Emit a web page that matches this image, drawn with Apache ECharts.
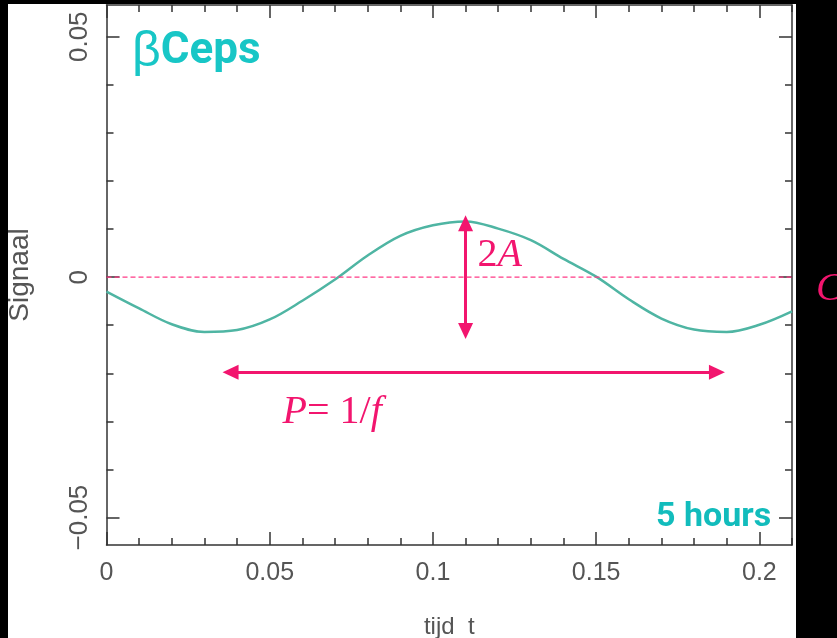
<!DOCTYPE html>
<html>
<head>
<meta charset="utf-8">
<script src="https://cdn.jsdelivr.net/npm/echarts@6/dist/echarts.min.js"></script>
<style>
  html, body { margin: 0; padding: 0; background: #000; }
  #chart { width: 837px; height: 638px; }
</style>
</head>
<body>
<div id="chart"></div>
<script>
// Signal of a beta Cephei pulsator over roughly five hours of time
const tijd = [0, 0.01, 0.02, 0.03, 0.04, 0.05, 0.06, 0.07, 0.08, 0.09, 0.10,
              0.11, 0.12, 0.13, 0.14, 0.15, 0.16, 0.17, 0.18, 0.19, 0.20, 0.21];
const signaal = [-0.0030, -0.0065, -0.0098, -0.0114, -0.0110, -0.0088, -0.0049,
                 -0.0005, 0.0045, 0.0086, 0.0108, 0.0116, 0.0101, 0.0077, 0.0038,
                 0.0001, -0.0046, -0.0086, -0.0109, -0.0114, -0.0099, -0.0071];

// Axis ticks
const xMajorTicks = [0, 0.05, 0.1, 0.15, 0.2];
const xMinorTicks = [0.01, 0.02, 0.03, 0.04, 0.06, 0.07, 0.08, 0.09, 0.11, 0.12,
                     0.13, 0.14, 0.16, 0.17, 0.18, 0.19, 0.21];
const yMajorTicks = [-0.05, 0.05];
const yZeroTick = [0];
const yMinorTicks = [-0.04, -0.03, -0.02, -0.01, 0.01, 0.02, 0.03, 0.04];

// Annotations: mean level C, amplitude arrow (2A) and period arrow (P = 1/f)
const meanLevel = [0];
const amplitude = [0.0112];
const amplitudeAt = [0.11];
const periodArrow = [0.038, 0.187];
const periodArrowAt = [-0.0198];

const xRange = [0, 0.21];
const yRange = [-0.0557, 0.0566];

const PINK = '#f2156e';
const AXIS = '#333333';
const LABEL = '#555555';

const chart = echarts.init(document.getElementById('chart'));

function axisBase(extra) {
  return Object.assign({
    type: 'value',
    splitLine: { show: false },
    axisLine: { show: false, onZero: false },
    axisLabel: { show: false }
  }, extra);
}

function majorTick(values) {
  return { show: true, inside: true, length: 13, customValues: values,
           lineStyle: { color: AXIS, width: 1.5 } };
}
function minorTick(values) {
  return { show: true, inside: true, length: 7, customValues: values,
           lineStyle: { color: AXIS, width: 1.5 } };
}
const frameLine = { show: true, onZero: false, lineStyle: { color: AXIS, width: 1.5 } };
const panel = {
  type: 'rect', z: -100, silent: true,
  shape: { x: 8, y: 4, width: 788, height: 640 },
  style: { fill: '#ffffff' }
};

const option = {
  backgroundColor: '#000000',
  animation: false,
  graphic: [panel],
  title: [{
    text: '{b|β}{c|Ceps}',
    left: 127, top: 22,
    textStyle: {
      rich: {
        b: { fontFamily: 'Liberation Sans', fontWeight: 'normal', fontSize: 50, color: '#18c6c6' },
        c: { fontFamily: 'Roboto', fontWeight: 'bold', fontSize: 44, color: '#18c6c6' }
      }
    }
  }, {
    text: '5 hours',
    left: 651, top: 495,
    textStyle: {
      fontFamily: 'Roboto', fontWeight: 'bold', fontSize: 34, color: '#12bcbc',
      textShadowColor: '#1a1a1a', textShadowOffsetX: 2, textShadowOffsetY: 2, textShadowBlur: 0
    }
  }],
  grid: { left: 106.5, right: 45, top: 5, bottom: 93, containLabel: false, outerBoundsMode: 'none' },
  xAxis: [
    axisBase({
      position: 'bottom', min: xRange[0], max: xRange[1],
      axisLine: frameLine,
      axisTick: majorTick(xMajorTicks),
      axisLabel: { show: true, customValues: xMajorTicks, margin: 16, fontSize: 25,
                   fontFamily: 'Liberation Sans', color: LABEL },
      name: 'tijd  t', nameLocation: 'middle', nameGap: 70,
      nameTextStyle: { fontSize: 24, fontFamily: 'Liberation Sans', color: LABEL }
    }),
    axisBase({ position: 'bottom', min: xRange[0], max: xRange[1], axisTick: minorTick(xMinorTicks) }),
    axisBase({ position: 'top', min: xRange[0], max: xRange[1], axisLine: frameLine, axisTick: majorTick(xMajorTicks) }),
    axisBase({ position: 'top', min: xRange[0], max: xRange[1], axisTick: minorTick(xMinorTicks) })
  ],
  yAxis: [
    axisBase({
      position: 'left', min: yRange[0], max: yRange[1],
      axisLine: frameLine,
      axisTick: majorTick(yMajorTicks.concat(yZeroTick)),
      axisLabel: { show: true, customValues: yMajorTicks.concat(yZeroTick), rotate: 90, margin: 14, fontSize: 26,
                   fontFamily: 'Liberation Sans', color: LABEL,
                   formatter: v => String(v).replace('-', '\u2212') },
      name: 'Signaal', nameLocation: 'middle', nameRotate: 90, nameGap: 72,
      nameTextStyle: { fontSize: 28, fontFamily: 'Liberation Sans', color: LABEL }
    }),
    axisBase({ position: 'left', min: yRange[0], max: yRange[1], axisTick: minorTick(yMinorTicks) }),
    axisBase({ position: 'right', min: yRange[0], max: yRange[1], axisLine: frameLine,
               axisTick: majorTick(yMajorTicks.concat(yZeroTick)) }),
    axisBase({ position: 'right', min: yRange[0], max: yRange[1], axisTick: minorTick(yMinorTicks) })
  ],
  series: [{
    name: 'Signaal',
    type: 'line',
    xAxisIndex: 0, yAxisIndex: 0,
    data: tijd.map((t, i) => [t, signaal[i]]),
    showSymbol: false,
    smooth: 0.35,
    lineStyle: { color: '#4fb5a3', width: 2.5 },
    z: 3,
    markLine: {
      silent: true,
      symbol: ['triangle', 'triangle'],
      symbolSize: [15, 16],
      animation: false,
      label: { show: false },
      itemStyle: { color: PINK },
      lineStyle: { color: PINK, width: 3, type: 'solid', opacity: 1 },
      data: [
        [
          { coord: [amplitudeAt[0], amplitude[0]] },
          { coord: [amplitudeAt[0], -amplitude[0]] }
        ],
        [
          { coord: [periodArrow[0], periodArrowAt[0]] },
          { coord: [periodArrow[1], periodArrowAt[0]] }
        ]
      ]
    }
  }, {
    // mean level C across the whole time range
    name: 'C',
    type: 'line',
    xAxisIndex: 0, yAxisIndex: 0,
    data: [[xRange[0], meanLevel[0]], [xRange[1], meanLevel[0]]],
    showSymbol: false,
    silent: true,
    lineStyle: { color: '#ff3a86', width: 1.4, type: [5, 3] },
    z: 10
  }]
};

chart.setOption(option);

// Place the captions next to the mean line and the arrows
const meanPx = chart.convertToPixel({ gridIndex: 0 }, [xRange[1], meanLevel[0]]);
const ampPx = chart.convertToPixel({ gridIndex: 0 }, [amplitudeAt[0], amplitude[0] / 2]);
const perPx = chart.convertToPixel({ gridIndex: 0 }, [periodArrow[0], periodArrowAt[0]]);
chart.setOption({
  graphic: [panel, {
    type: 'text', z: 10, silent: true,
    x: meanPx[0] + 24, y: meanPx[1] + 12,
    style: {
      text: 'C', verticalAlign: 'middle', align: 'left',
      fontFamily: 'Liberation Serif', fontStyle: 'italic', fontSize: 40, fill: PINK
    }
  }, {
    type: 'text', z: 10, silent: true,
    x: ampPx[0] + 12, y: ampPx[1] + 5,
    style: {
      text: '{n|2}{i|A}',
      verticalAlign: 'middle', align: 'left',
      rich: {
        n: { fontFamily: 'Liberation Serif', fontSize: 40, fill: PINK },
        i: { fontFamily: 'Liberation Serif', fontStyle: 'italic', fontSize: 40, fill: PINK }
      }
    }
  }, {
    type: 'text', z: 10, silent: true,
    x: perPx[0] + 52, y: perPx[1] + 40,
    style: {
      text: '{i|P}{n|= 1/}{i|f}',
      verticalAlign: 'middle', align: 'left',
      rich: {
        n: { fontFamily: 'Liberation Serif', fontSize: 40, fill: PINK },
        i: { fontFamily: 'Liberation Serif', fontStyle: 'italic', fontSize: 40, fill: PINK }
      }
    }
  }]
});
</script>
</body>
</html>
